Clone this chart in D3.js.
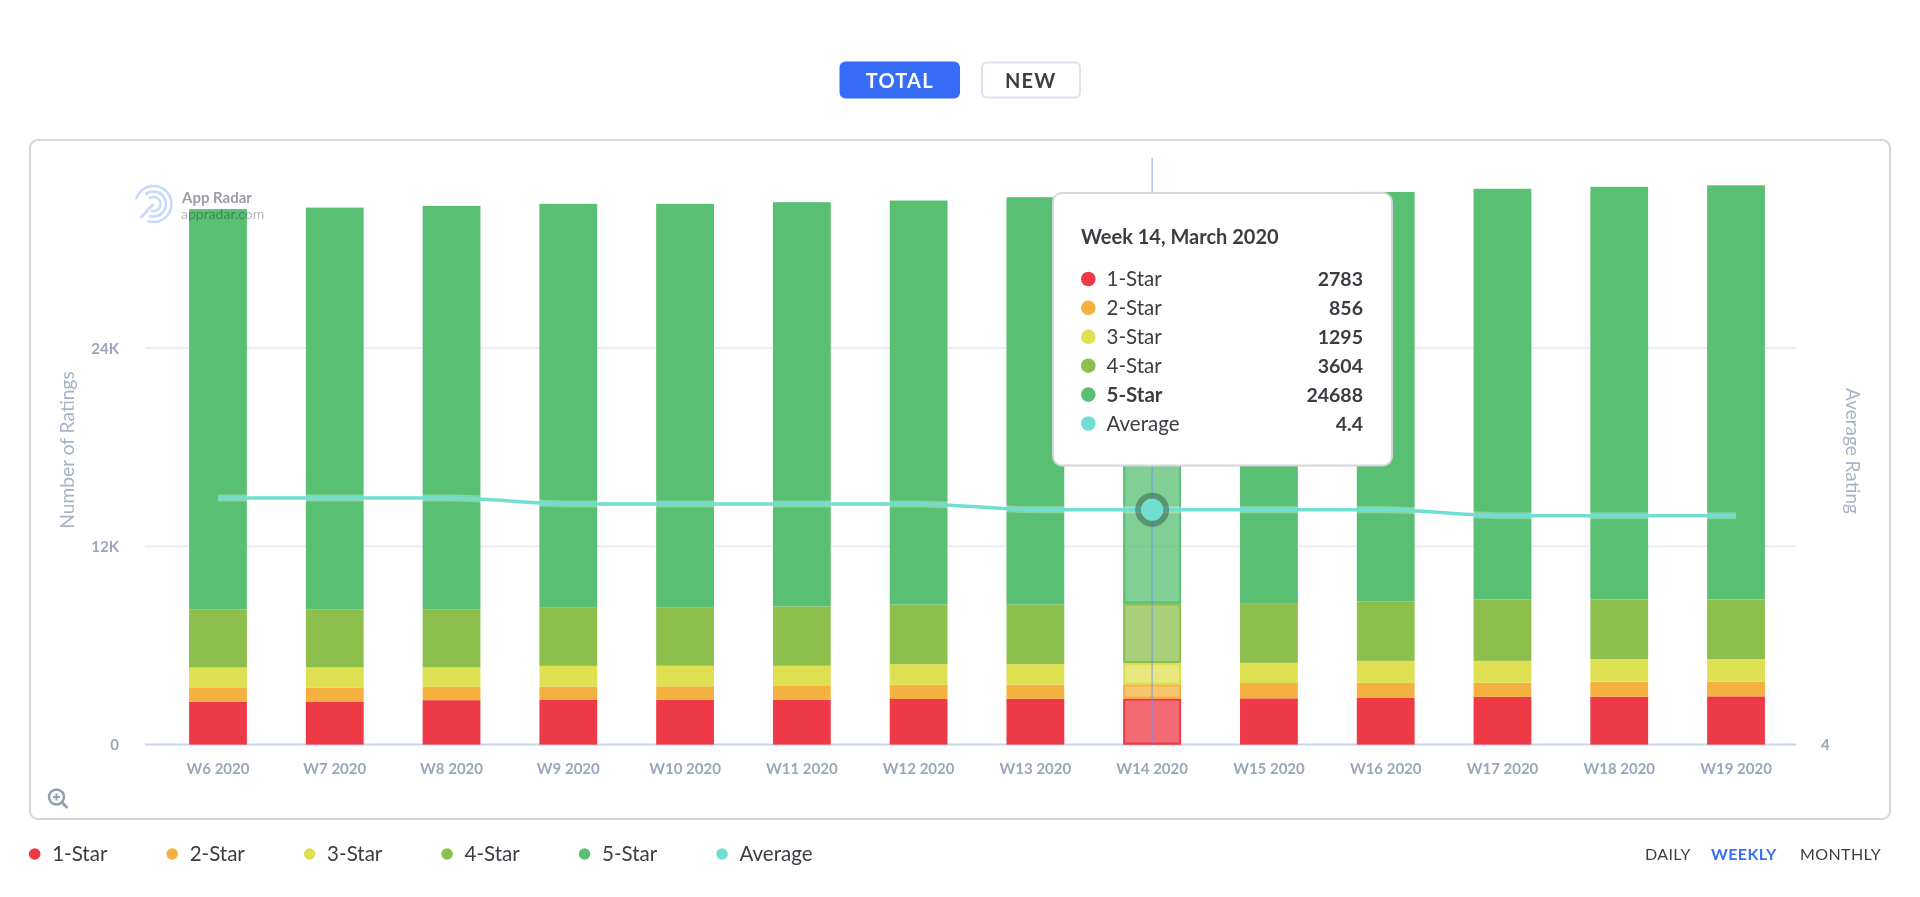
<!DOCTYPE html>
<html>
<head>
<meta charset="utf-8">
<script src="https://cdn.jsdelivr.net/npm/d3@7"></script>
<style>
  html, body { margin: 0; padding: 0; background: #fff; overflow: hidden; }
  text { font-family: Lato, "Noto Sans", sans-serif; }
</style>
</head>
<body>
<script>
// values
const weeks = ["W6 2020","W7 2020","W8 2020","W9 2020","W10 2020","W11 2020","W12 2020","W13 2020","W14 2020","W15 2020","W16 2020","W17 2020","W18 2020","W19 2020"];
const star1 = [2600,2610,2690,2700,2710,2720,2760,2770,2783,2800,2820,2890,2900,2920];
const star2 = [830,830,810,815,820,825,860,860,856,930,920,860,910,900];
const star3 = [1235,1230,1170,1250,1240,1225,1250,1240,1295,1220,1330,1320,1360,1350];
const star4 = [3515,3510,3510,3520,3515,3595,3615,3615,3604,3615,3595,3720,3620,3620];
const star5 = [24230,24320,24420,24445,24445,24465,24445,24645,24688,24735,24785,24850,24970,25060];
const average = [4.42,4.42,4.42,4.41,4.41,4.41,4.41,4.40,4.40,4.40,4.40,4.39,4.39,4.39];

const seriesNames = ["1-Star","2-Star","3-Star","4-Star","5-Star"];
const seriesValues = [star1, star2, star3, star4, star5];
const seriesColors = ["#ed3a46","#f5b13f","#dfdf52","#8dbf4d","#58bf73"];
const avgName = "Average";
const avgColor = "#70dfd1";
const yTicks = [0, 12000, 24000];
const y2Ticks = [4];
const periods = ["DAILY","WEEKLY","MONTHLY"];
const hoverWeek = "W14 2020";
const hoverTitle = "Week 14, March 2020";

const inkDark = "#3c3d43";
const inkAxis = "#98a7bb";

const svg = d3.select("body").append("svg").attr("width", 1920).attr("height", 897);

// TOTAL / NEW buttons
svg.append("rect").attr("x", 839.5).attr("y", 61.5).attr("width", 120.5).attr("height", 37).attr("rx", 6).attr("fill", "#366cf6");
svg.append("text").attr("x", 899.7).attr("y", 87.5).attr("text-anchor", "middle").attr("fill", "#fff")
  .attr("font-size", 20).attr("font-weight", 700).attr("letter-spacing", 1.2).text("TOTAL");
svg.append("rect").attr("x", 982).attr("y", 62.5).attr("width", 98).attr("height", 35).attr("rx", 5)
  .attr("fill", "#fff").attr("stroke", "#dde1f0").attr("stroke-width", 2);
svg.append("text").attr("x", 1030.7).attr("y", 87.5).attr("text-anchor", "middle").attr("fill", inkDark)
  .attr("font-size", 20).attr("font-weight", 700).attr("letter-spacing", 1.2).text("NEW");

// chart panel
svg.append("rect").attr("x", 30).attr("y", 140).attr("width", 1860).attr("height", 679).attr("rx", 8)
  .attr("fill", "#fff").attr("stroke", "#d2d7de").attr("stroke-width", 2);

const x = d3.scaleBand().domain(weeks).range([159.6, 1794.4]).paddingInner(0.505).paddingOuter(0.2525);
const y = d3.scaleLinear().domain([0, 36000]).range([744.6, 149.8]);
const y2 = d3.scaleLinear().domain([4, 5]).range([744.6, 157.5]);

// grid + baseline
svg.append("g").selectAll("line").data(yTicks).join("line")
  .attr("x1", 145).attr("x2", 1796)
  .attr("y1", d => y(d)).attr("y2", d => y(d))
  .attr("stroke", d => d === 0 ? "#c9d5ec" : "#eaeef4")
  .attr("stroke-width", 2);

// axes
const yAxis = svg.append("g").attr("transform", "translate(119,0)")
  .call(d3.axisLeft(y).tickValues(yTicks).tickSize(0).tickPadding(0).tickFormat(d => d === 0 ? "0" : d / 1000 + "K"));
const y2Axis = svg.append("g").attr("transform", "translate(1821,0)")
  .call(d3.axisRight(y2).tickValues(y2Ticks).tickSize(0).tickPadding(0).tickFormat(d3.format("d")));
const xAxis = svg.append("g").attr("transform", "translate(0,745)")
  .call(d3.axisBottom(x).tickSize(0).tickPadding(18));
[yAxis, y2Axis, xAxis].forEach(a => {
  a.select(".domain").remove();
  a.selectAll("text").attr("fill", inkAxis).attr("font-size", 15).attr("font-weight", 700)
    .style("font-family", "Lato, sans-serif");
});
yAxis.selectAll("text").attr("dy", "0.34em");
y2Axis.selectAll("text").attr("dy", "0.34em");

svg.append("text").attr("transform", "translate(74,450) rotate(-90)").attr("text-anchor", "middle")
  .attr("fill", "#a5b4c8").attr("font-size", 19.2).text("Number of Ratings");
svg.append("text").attr("transform", "translate(1846,451) rotate(90)").attr("text-anchor", "middle")
  .attr("fill", "#a5b4c8").attr("font-size", 19).text("Average Rating");

// stacked bars
const table = weeks.map((w, i) => {
  const row = { week: w };
  seriesNames.forEach((n, s) => { row[n] = seriesValues[s][i]; });
  return row;
});
const stacked = d3.stack().keys(seriesNames)(table);

svg.append("g").selectAll("g").data(stacked).join("g")
  .attr("fill", (d, i) => seriesColors[i])
  .selectAll("rect").data(d => d).join("rect")
  .attr("x", d => x(d.data.week))
  .attr("width", x.bandwidth())
  .attr("y", d => y(d[1]))
  .attr("height", d => y(d[0]) - y(d[1]))
  .attr("fill-opacity", d => d.data.week === hoverWeek ? 0.75 : 1);

// hover outline on the active week
svg.append("g").selectAll("rect").data(stacked).join("rect")
  .attr("x", d => x(hoverWeek) + 1)
  .attr("width", x.bandwidth() - 2)
  .attr("y", d => y(d[weeks.indexOf(hoverWeek)][1]) + 1)
  .attr("height", d => { const p = d[weeks.indexOf(hoverWeek)]; return y(p[0]) - y(p[1]) - 2; })
  .attr("fill", "none")
  .attr("stroke", (d, i) => seriesColors[i])
  .attr("stroke-width", 2);

// crosshair
const hx = x(hoverWeek) + x.bandwidth() / 2;
svg.append("line").attr("x1", hx).attr("x2", hx).attr("y1", 158).attr("y2", 745)
  .attr("stroke", "#6f8fe8").attr("stroke-opacity", 0.55).attr("stroke-width", 1.5);

// average line
const avgLine = d3.line()
  .x((d, i) => x(weeks[i]) + x.bandwidth() / 2)
  .y(d => y2(d))
  .curve(d3.curveMonotoneX);
svg.append("path").datum(average).attr("d", avgLine).attr("fill", "none")
  .attr("stroke", "#fff").attr("stroke-opacity", 0.3).attr("stroke-width", 7);
svg.append("path").datum(average).attr("d", avgLine).attr("fill", "none")
  .attr("stroke", avgColor).attr("stroke-width", 3.5);

const hi = weeks.indexOf(hoverWeek);
svg.append("circle").attr("cx", hx).attr("cy", y2(average[hi])).attr("r", 14).attr("fill", "none")
  .attr("stroke", "#2f5a48").attr("stroke-opacity", 0.5).attr("stroke-width", 6);
svg.append("circle").attr("cx", hx).attr("cy", y2(average[hi])).attr("r", 11).attr("fill", avgColor);

// watermark
const mark = svg.append("g").attr("transform", "translate(153.5,204)").attr("fill", "none").attr("stroke", "#c6dafc");
const ringArc = d3.arc();
[[18, 2.5], [12.5, 2.5], [7, 2.5]].forEach(([r, w], k) => {
  mark.append("path")
    .attr("d", ringArc({ innerRadius: r - w / 2, outerRadius: r + w / 2, startAngle: k === 0 ? -1.3 : -0.7, endAngle: 3.5 }))
    .attr("fill", "#c6dafc").attr("stroke", "none");
});
mark.append("line").attr("x1", -13).attr("y1", 14).attr("x2", 0).attr("y2", 0).attr("stroke-width", 3);
svg.append("text").attr("x", 182).attr("y", 203).attr("font-size", 15).attr("font-weight", 700)
  .attr("fill", "#9a9ea6").style("mix-blend-mode", "multiply").text("App Radar");
svg.append("text").attr("x", 181).attr("y", 219).attr("font-size", 14)
  .attr("fill", "#b4b7bd").style("mix-blend-mode", "multiply").text("appradar.com");

// zoom icon
const zoomIcon = svg.append("g").attr("transform", "translate(56.5,797)").attr("fill", "none")
  .attr("stroke", "#8ea0b6").attr("stroke-width", 2.5);
zoomIcon.append("circle").attr("r", 7.5);
zoomIcon.append("path").attr("d", "M-3.5 0H3.5M0 -3.5V3.5").attr("stroke-width", 2);
zoomIcon.append("path").attr("d", "M5.5 5.5L10 10").attr("stroke-width", 3).attr("stroke-linecap", "round");

// tooltip
const tip = svg.append("g");
tip.append("rect").attr("x", 1053).attr("y", 193).attr("width", 339).attr("height", 272.5).attr("rx", 9)
  .attr("fill", "#fff").attr("stroke", "#d5d6da").attr("stroke-width", 2);
tip.append("text").attr("x", 1081).attr("y", 243.5).attr("font-size", 20).attr("font-weight", 700)
  .attr("fill", inkDark).text(hoverTitle);

const tipRows = seriesNames.map((n, s) => ({ name: n, color: seriesColors[s], value: String(seriesValues[s][hi]) }))
  .concat([{ name: avgName, color: avgColor, value: d3.format(".1f")(average[hi]) }]);
const rowY = d3.scalePoint().domain(tipRows.map(d => d.name)).range([279, 423.5]);
const row = tip.selectAll("g.row").data(tipRows).join("g").attr("class", "row")
  .attr("transform", d => `translate(0,${rowY(d.name)})`);
row.append("circle").attr("cx", 1088.3).attr("r", 7.3).attr("fill", d => d.color);
row.append("text").attr("x", 1106.5).attr("y", 7).attr("font-size", 20.5).attr("fill", inkDark)
  .attr("font-weight", d => d.name === "5-Star" ? 700 : 400).text(d => d.name);
row.append("text").attr("x", 1363).attr("y", 7).attr("text-anchor", "end").attr("font-size", 19.5)
  .attr("font-weight", 700).attr("fill", inkDark).text(d => d.value);

// legend
const legendNames = seriesNames.concat([avgName]);
const legendColors = seriesColors.concat([avgColor]);
const legendX = d3.scalePoint().domain(legendNames).range([34.7, 722]);
const legend = svg.selectAll("g.legend").data(legendNames).join("g").attr("class", "legend")
  .attr("transform", d => `translate(${legendX(d)},854)`);
legend.append("circle").attr("r", 5.8).attr("fill", (d, i) => legendColors[i]);
legend.append("text").attr("x", 17.5).attr("y", 7).attr("font-size", 20.5).attr("fill", inkDark).text(d => d);

// period switch
const periodX = [1645, 1711, 1800];
svg.selectAll("text.period").data(periods).join("text").attr("class", "period")
  .attr("x", (d, i) => periodX[i]).attr("y", 859.5).attr("font-size", 16).attr("letter-spacing", 0.4)
  .attr("font-weight", d => d === "WEEKLY" ? 700 : 400)
  .attr("fill", d => d === "WEEKLY" ? "#3b6ff5" : inkDark).text(d => d);
</script>
</body>
</html>
